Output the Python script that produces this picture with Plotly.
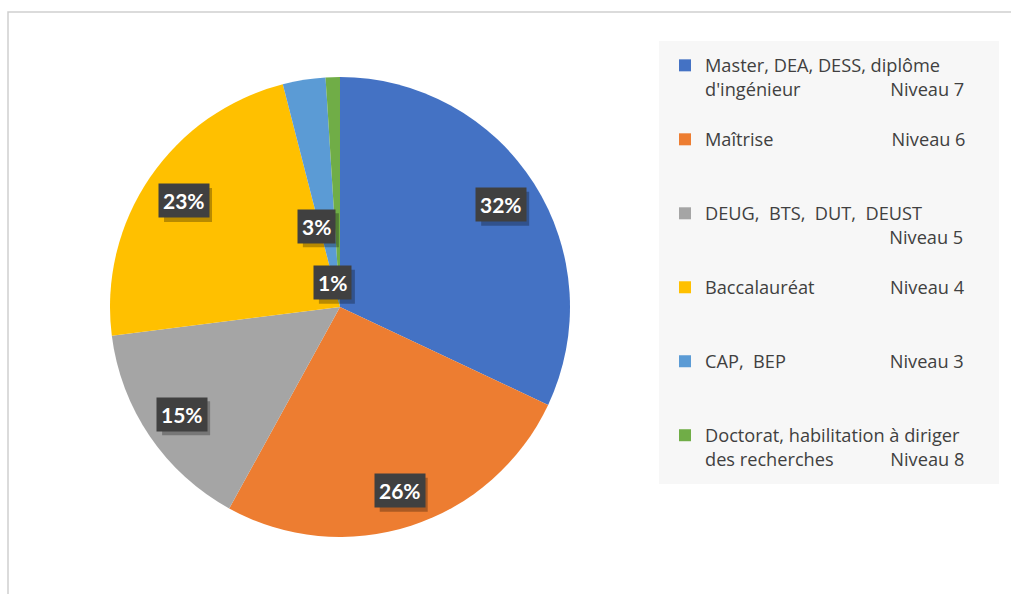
import math
import plotly.graph_objects as go

# ---- data ----
categories = [
    "Master, DEA, DESS, diplôme<br>d'ingénieur",
    "Maîtrise",
    "DEUG,  BTS,  DUT,  DEUST",
    "Baccalauréat",
    "CAP,  BEP",
    "Doctorat, habilitation à diriger<br>des recherches",
]
niveaux = ["Niveau 7", "Niveau 6", "Niveau 5", "Niveau 4", "Niveau 3", "Niveau 8"]
values = [32, 26, 15, 23, 3, 1]

# ---- style ----
colors = ["#4472C4", "#ED7D31", "#A5A5A5", "#FFC000", "#5B9BD5", "#70AD47"]
pad_spaces = [19, 25, None, 16, 22, 12]   # spaces before "Niveau" on the same line
pad_newline = 39                           # for the item where Niveau goes on its own line
trailing_lines = [1, 2, 1, 2, 2, 0]
widen_spaces = 6                           # trailing spaces widening the legend box
label_rfrac = [0.83, 0.84, 0.83, 0.82, 0.365, 0.11]
label_angle_off = [0, 0, 0, 0, -7, -14.5]

W, H = 1011, 594
CX, CY, R = 340, 307, 230
FONT = "Lato, 'Open Sans', sans-serif"
LEG_FONT = "'Open Sans', sans-serif"

legend_labels = []
for i, (cat, niv, pad, tr) in enumerate(zip(categories, niveaux, pad_spaces, trailing_lines)):
    if i == len(categories) - 1:
        first, second = cat.split("<br>")
        cat = first + " " * widen_spaces + "<br>" + second
    if pad is None:
        txt = cat + "<br>" + " " * pad_newline + niv
    else:
        txt = cat + " " * pad + niv
    txt += "<br>\u00a0" * tr
    legend_labels.append(txt)

fig = go.Figure()
fig.add_trace(go.Pie(
    labels=legend_labels,
    values=values,
    sort=False,
    direction="clockwise",
    rotation=0,
    marker=dict(colors=colors, line=dict(width=0)),
    textinfo="none",
    hoverinfo="label+percent",
    domain=dict(x=[(CX - R) / W, (CX + R) / W], y=[1 - (CY + R) / H, 1 - (CY - R) / H]),
))

# data labels placed from the slice angles
total = sum(values)
cum = 0.0
annotations = []
shapes = []
for i, v in enumerate(values):
    mid = (cum + v / 2) / total * 360 + label_angle_off[i]
    cum += v
    r = R * label_rfrac[i]
    px = CX + r * math.sin(math.radians(mid))
    py = CY - r * math.cos(math.radians(mid))
    txt = f"{round(v / total * 100)}%"
    bw = 12 * len(txt) + 12
    bh = 34
    sx, sy = px + 4, py + 4
    shapes.append(dict(type="rect", xref="paper", yref="paper",
                       x0=(sx - bw / 2) / W, x1=(sx + bw / 2) / W,
                       y0=1 - (sy + bh / 2) / H, y1=1 - (sy - bh / 2) / H,
                       line=dict(width=0), fillcolor="rgba(0,0,0,0.28)", layer="above"))
    annotations.append(dict(x=px / W, y=1 - py / H, xref="paper", yref="paper",
                            xanchor="center", yanchor="middle", showarrow=False,
                            text=txt, borderpad=4, bgcolor="#404040",
                            font=dict(family=FONT, size=21, weight="bold", color="white")))

shapes.append(dict(type="rect", xref="paper", yref="paper",
                   x0=8 / W, y0=-0.05, x1=1.05, y1=1 - 12 / H,
                   line=dict(color="#CFCFCF", width=1.5), fillcolor="rgba(0,0,0,0)",
                   layer="below"))

fig.update_layout(
    width=W, height=H,
    margin=dict(l=0, r=0, t=0, b=0, autoexpand=False),
    paper_bgcolor="white",
    plot_bgcolor="white",
    showlegend=True,
    legend=dict(
        x=659 / W, y=1 - 41 / H, xanchor="left", yanchor="top",
        bgcolor="#F7F7F7", bordercolor="#F7F7F7", borderwidth=6, valign="top",
        font=dict(family=LEG_FONT, size=18.2, color="#404040"),
        tracegroupgap=0,
    ),
    annotations=annotations,
    shapes=shapes,
)

fig.write_html("out.html", config={"displayModeBar": False},
               post_script="document.body.style.margin='0';")
